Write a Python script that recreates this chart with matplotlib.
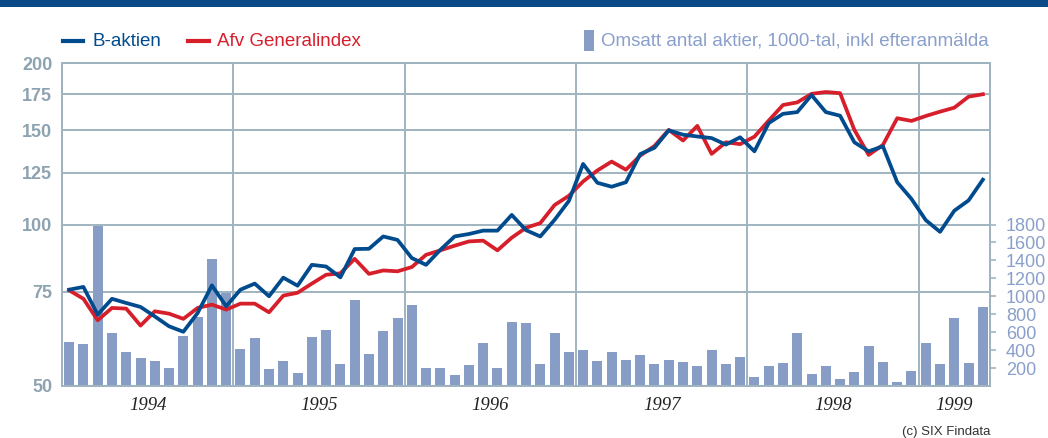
import numpy as np
import matplotlib
matplotlib.use("Agg")
import matplotlib.pyplot as plt
from matplotlib import transforms
from matplotlib.lines import Line2D
from matplotlib.patches import Rectangle
from matplotlib.ticker import NullLocator, NullFormatter

# Monthly values, Jan 1994 - May 1999
b_aktien = [75.6, 76.5, 67.9, 72.7, 71.4, 70.2, 67.4, 64.6, 63.1, 68.4, 77.0, 70.4,
            75.6, 77.6, 73.5, 79.6, 76.9, 84.1, 83.5, 79.7, 90.0, 90.1, 95.0, 93.6,
            86.6, 84.1, 89.7, 95.0, 96.0, 97.4, 97.4, 104.2, 97.6, 95.0, 102.0, 110.6,
            129.7, 119.6, 117.6, 119.9, 135.3, 139.0, 149.8, 147.0, 145.9, 144.9, 140.9, 145.4,
            136.9, 154.5, 160.8, 162.0, 174.3, 162.0, 159.5, 142.3, 136.9, 139.9, 119.9, 111.6,
            101.9, 96.9, 106.1, 110.9, 121.2]

generalindex = [75.4, 72.7, 66.3, 69.9, 69.7, 64.8, 68.9, 68.2, 66.7, 69.9, 70.9, 69.4,
                71.2, 71.2, 68.6, 73.7, 74.6, 77.6, 80.6, 81.1, 86.3, 80.9, 82.1, 81.8,
                83.3, 87.8, 89.5, 91.3, 93.0, 93.3, 89.5, 94.5, 98.6, 100.6, 108.7, 113.1,
                120.3, 126.1, 131.0, 126.5, 134.4, 140.1, 150.1, 143.4, 152.7, 135.4, 142.3, 141.2,
                145.8, 156.2, 167.0, 168.9, 175.2, 176.6, 175.7, 150.1, 134.8, 140.7, 157.8, 156.0,
                159.3, 162.3, 165.1, 173.1, 174.9]

# Omsatt antal aktier, 1000-tal
omsatt = [493, 470, 1784, 594, 381, 314, 280, 202, 560, 773, 1411, 1042,
          414, 538, 190, 280, 146, 549, 627, 246, 963, 358, 616, 762,
          907, 202, 202, 123, 235, 482, 202, 717, 706, 246, 594, 381,
          403, 280, 381, 291, 347, 246, 291, 269, 224, 403, 246, 325,
          101, 224, 258, 594, 134, 224, 78, 157, 448, 269, 45, 168,
          482, 246, 762, 258, 885]

years = ["1994", "1995", "1996", "1997", "1998", "1999"]
year_pos = [6, 18, 30, 42, 54, 62.5]
year_lines = [12, 24, 36, 48, 60]
left_ticks = [50, 75, 100, 125, 150, 175, 200]
right_ticks = [200, 400, 600, 800, 1000, 1200, 1400, 1600, 1800]

# colours
blue = "#004b8d"
red = "#d71f2b"
bar_c = "#879dc6"
grid_c = "#a0b4c0"
left_lab_c = "#8ea3b1"
right_lab_c = "#8a9fcb"

plt.rcParams["font.family"] = ["Liberation Sans", "DejaVu Sans"]

W, H = 1048, 438
fig = plt.figure(figsize=(W / 100, H / 100), dpi=100)

# bars on the base axes (right scale), lines on the twin (left log scale)
ax = fig.add_axes([62 / W, 52 / H, 928 / W, 323 / H])
ax2 = ax.twinx()
months = np.arange(len(omsatt)) + 0.5

ax2.set_yscale("log")
ax2.set_ylim(50, 200)
ax.set_ylim(0, 3600)
ax.set_xlim(0, 65)

# grid behind the bars
trans = transforms.blended_transform_factory(ax.transAxes, ax2.transData)
for v in left_ticks[1:-1]:
    ax.add_line(Line2D([0, 1], [v, v], transform=trans, color=grid_c, lw=1.4, zorder=0))
for x in year_lines:
    ax.axvline(x, color=grid_c, lw=1.4, zorder=0)

ax.bar(months, omsatt, width=0.7, color=bar_c, zorder=2)

ax2.plot(months, generalindex, color=red, lw=2.7)
ax2.plot(months, b_aktien, color=blue, lw=2.7)

# axes / ticks
ax.set_xticks([])
ax.yaxis.tick_right()
ax.set_yticks(right_ticks)
ax.set_yticklabels([str(t) for t in right_ticks])
ax.tick_params(axis="y", length=4.5, width=1.2, color=grid_c, pad=7,
               labelsize=13, labelcolor=right_lab_c)

ax2.yaxis.tick_left()
ax2.yaxis.set_minor_locator(NullLocator())
ax2.yaxis.set_minor_formatter(NullFormatter())
ax2.set_yticks(left_ticks)
ax2.set_yticklabels([str(t) for t in left_ticks])
ax2.tick_params(axis="y", which="both", length=0, pad=7, labelsize=13, labelcolor=left_lab_c)
for lbl in ax2.get_yticklabels():
    lbl.set_fontweight("bold")

for a in (ax, ax2):
    for s in a.spines.values():
        s.set_color(grid_c)
        s.set_linewidth(1.4)

# year labels under the axis
ytrans = transforms.blended_transform_factory(ax.transData, ax.transAxes)
for x, y in zip(year_pos, years):
    ax.text(x, -19 / 323, y, transform=ytrans, ha="center", va="center",
            family="Liberation Serif", fontstyle="italic", size=13.5, color="#222222")

# top banner
fig.add_artist(Rectangle((0, 1 - 7 / H), 1, 7 / H, transform=fig.transFigure,
                         color="#0a4a86", lw=0))

# legend
ly = 1 - 41 / H
fig.add_artist(Line2D([63 / W, 83 / W], [ly, ly], transform=fig.transFigure, color=blue, lw=3))
fig.text(92 / W, ly, "B-aktien", va="center", color=blue, size=13.5)
fig.add_artist(Line2D([188 / W, 209 / W], [ly, ly], transform=fig.transFigure, color=red, lw=3))
fig.text(217 / W, ly, "Afv Generalindex", va="center", color=red, size=13.5)
fig.add_artist(Rectangle((584 / W, 1 - 51 / H), 10 / W, 21 / H, transform=fig.transFigure,
                         color=bar_c, lw=0))
fig.text(601 / W, ly, "Omsatt antal aktier, 1000-tal, inkl efteranmälda", va="center",
         color=right_lab_c, size=13.5)

fig.text(990 / W, 1 - 432 / H, "(c) SIX Findata", ha="right", va="center", size=9.5, color="#333333")

fig.savefig("out.png", dpi=100)
